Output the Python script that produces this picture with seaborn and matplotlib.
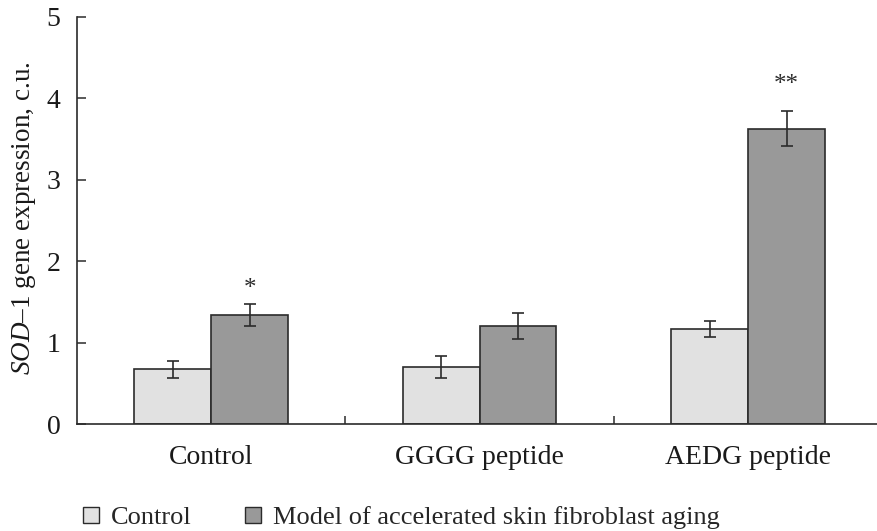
import matplotlib
matplotlib.use("Agg")
import matplotlib.pyplot as plt
from matplotlib.lines import Line2D
import seaborn as sns
import pandas as pd

# ---- data ----
groups = ["Control", "GGGG peptide", "AEDG peptide"]
conditions = ["Control", "Model of accelerated skin fibroblast aging"]
control_vals = [0.67, 0.70, 1.17]
control_err = [0.11, 0.14, 0.10]
model_vals = [1.34, 1.20, 3.63]
model_err = [0.13, 0.16, 0.22]
model_marks = ["*", "", "**"]
mark_y = [1.58, None, 4.09]
yticks = [0, 1, 2, 3, 4, 5]

light = "#e1e1e1"
dark = "#999999"
edge = "#2b2b2b"

sns.set_theme(style="white")
plt.rcParams["font.family"] = ["Liberation Serif", "DejaVu Serif"]
plt.rcParams["mathtext.fontset"] = "custom"
plt.rcParams["mathtext.rm"] = "Liberation Serif"
plt.rcParams["mathtext.it"] = "Liberation Serif:italic"
FS = 20
FS_LAB = 19.5
FS_LEG = 19

df = pd.DataFrame({
    "group": groups * 2,
    "condition": [conditions[0]] * 3 + [conditions[1]] * 3,
    "value": control_vals + model_vals,
})

fig = plt.figure(figsize=(8.77, 5.31), dpi=100)
ax = fig.add_axes([0.0878, 0.2015, 0.9122, 0.7665])

sns.barplot(data=df, x="group", y="value", hue="condition", order=groups,
            hue_order=conditions, palette=[light, dark], width=0.572, gap=0,
            edgecolor=edge, linewidth=1.2, errorbar=None, legend=False, ax=ax,
            saturation=1)

bar_containers = list(ax.containers)
errs = [control_err, model_err]
vals = [control_vals, model_vals]
for ci, cont in enumerate(bar_containers):
    xs = [b.get_x() + b.get_width() / 2 for b in cont.patches]
    ax.errorbar(xs, vals[ci], yerr=errs[ci], fmt="none", ecolor=edge,
                elinewidth=1.2, capsize=4.3, capthick=1.2, zorder=5)
    if ci == 1:
        for x, m, yv in zip(xs, model_marks, mark_y):
            if m:
                ax.text(x, yv, m, ha="center", va="baseline", fontsize=18,
                        color=edge)

ax.set_xlim(-0.5, 2.48)
ax.set_ylim(0, 5)
ax.set_yticks(yticks)
ax.set_yticklabels([str(t) for t in yticks], fontsize=FS)
ax.set_xticks(range(len(groups)))
ax.set_xticklabels(groups, fontsize=FS)
ax.set_xticks([0.5, 1.5], minor=True)
ax.tick_params(axis="x", which="major", length=0, pad=15, colors="#1a1a1a")
ax.tick_params(axis="x", which="minor", direction="in", length=6, width=1.1,
               color=edge, bottom=True)
ax.tick_params(axis="y", direction="in", length=6.5, width=1.1, pad=12,
               color=edge, labelcolor="#1a1a1a", left=True)
ax.set_xlabel("")
ax.set_ylabel(r"$\mathit{SOD}$–$\mathit{1}$ gene expression, c.u.",
              fontsize=FS_LAB, color="#1a1a1a")
ax.yaxis.set_label_coords(-0.049, 0.505)

for s in ["top", "right"]:
    ax.spines[s].set_visible(False)
for s in ["left", "bottom"]:
    ax.spines[s].set_color(edge)
    ax.spines[s].set_linewidth(1.2)

handles = [Line2D([], [], linestyle="none", marker="s", markersize=11.5,
                  markerfacecolor=c, markeredgecolor=edge, markeredgewidth=1.0)
           for c in [light, dark]]
fig.legend(handles, conditions, loc="center left",
           bbox_to_anchor=(0.093, 0.026), ncol=2, frameon=False,
           fontsize=FS_LEG, handlelength=0.7, handletextpad=0.4,
           columnspacing=2.0, borderpad=0, borderaxespad=0)

fig.savefig("out.png", dpi=100)
